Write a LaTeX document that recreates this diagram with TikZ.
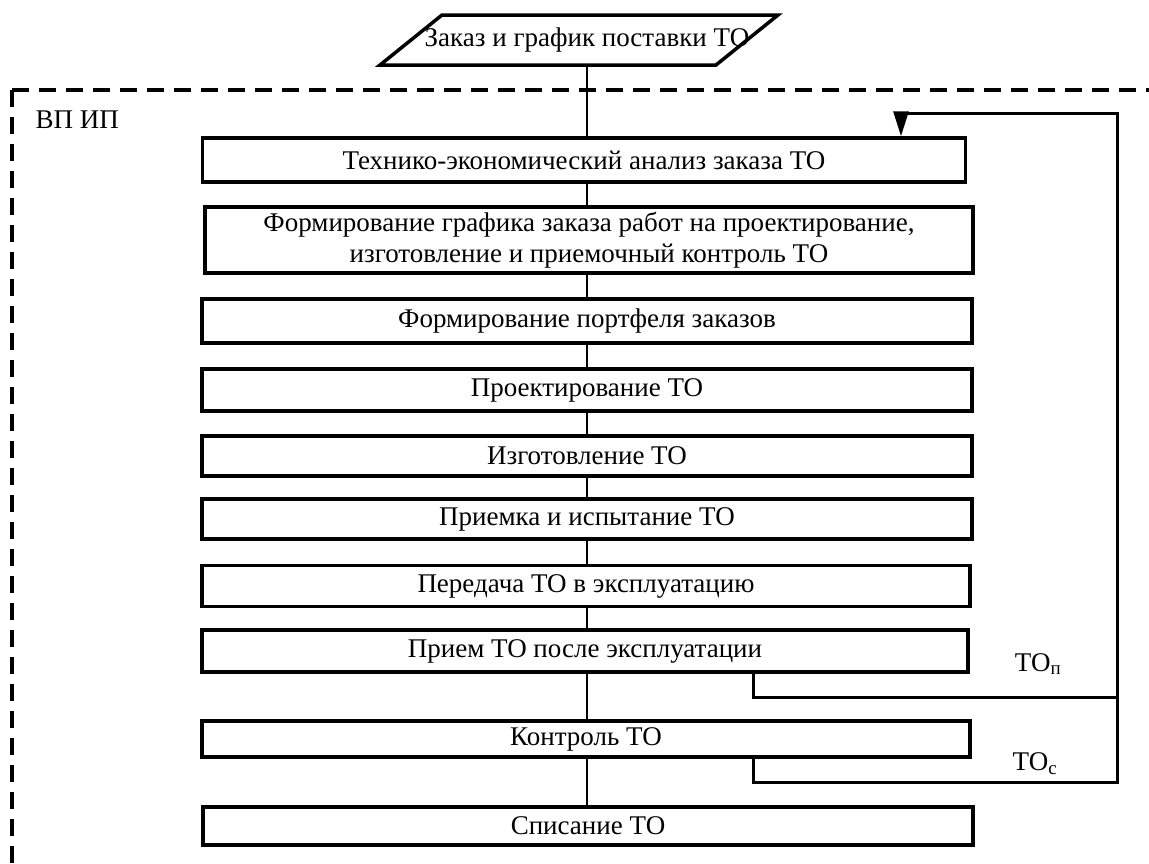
\documentclass[tikz,border=0pt]{standalone}
\usepackage{fontspec}
\setmainfont{Liberation Serif}
\usetikzlibrary{arrows.meta,calc}
\begin{document}
\begin{tikzpicture}[x=1pt,y=-1pt,
  font=\fontsize{27}{31}\selectfont,
  box/.style={draw,line width=3.5pt,inner sep=0pt,align=center},
  conn/.style={line width=2.5pt},
  fb/.style={line width=3pt},
  frame/.style={line width=4pt,dash pattern=on 17pt off 10pt}]
\useasboundingbox (0,0) rectangle (1149,863);
\fill[white] (0,0) rectangle (1149,863);
% frame
\draw[frame] (12,90) -- (1149,90);
\draw[frame] (12,90) -- (12,863);
\node[anchor=west] (vpip) at (32,120) {ВП ИП};
% input parallelogram
\draw[line width=3.5pt,line join=miter] (380,65) -- (442,15) -- (778,15) -- (716,65) -- cycle;
\node (p) at (587,40) {Заказ и график поставки ТО};
\coordinate (pbot) at (587,65);
\coordinate (ax) at (587,0);
% boxes
\node[box,minimum width=763pt,minimum height=44pt] (b1) at (584,160) {Технико-экономический анализ заказа ТО};
\node[box,minimum width=768pt,minimum height=66pt] (b2) at (589,240) {Формирование графика заказа работ на проектирование,\\изготовление и приемочный контроль ТО};
\node[box,minimum width=770pt,minimum height=44pt] (b3) at (587,321) {Формирование портфеля заказов};
\node[box,minimum width=770pt,minimum height=42pt] (b4) at (587,390) {Проектирование ТО};
\node[box,minimum width=770pt,minimum height=40pt] (b5) at (587,456) {Изготовление ТО};
\node[box,minimum width=770pt,minimum height=40pt] (b6) at (587,519) {Приемка и испытание ТО};
\node[box,minimum width=768pt,minimum height=41pt] (b7) at (586,586) {Передача ТО в эксплуатацию};
\node[box,minimum width=766pt,minimum height=42pt] (b8) at (585,651) {Прием ТО после эксплуатации};
\node[box,minimum width=768pt,minimum height=36pt] (b9) at (586,739) {Контроль ТО};
\node[box,minimum width=770pt,minimum height=38pt] (b10) at (588,826) {Списание ТО};
% main connectors
\draw[conn] (pbot) -- (b1.north -| ax);
\foreach \a/\b in {b1/b2,b2/b3,b3/b4,b4/b5,b5/b6,b6/b7,b7/b8,b8/b9,b9/b10}
  \draw[conn] (\a.south -| ax) -- (\b.north -| ax);
% feedback
\coordinate (fx) at (753,0);
\coordinate (ah) at (901,0);
\coordinate (c8) at (1117,697);
\coordinate (c9) at (1117,782);
\coordinate (ctop) at (1117,113);
\draw[fb] (b8.south -| fx) |- (c8);
\draw[fb,-{Triangle[length=25pt,width=15pt]}] (b9.south -| fx) |- (c9) -- (ctop) -- (ctop -| ah) -- (b1.north -| ah);
\node (lp) at (1038,664) {ТО\textsubscript{п}};
\node (lc) at (1035,764) {ТО\textsubscript{с}};
\end{tikzpicture}
\end{document}
